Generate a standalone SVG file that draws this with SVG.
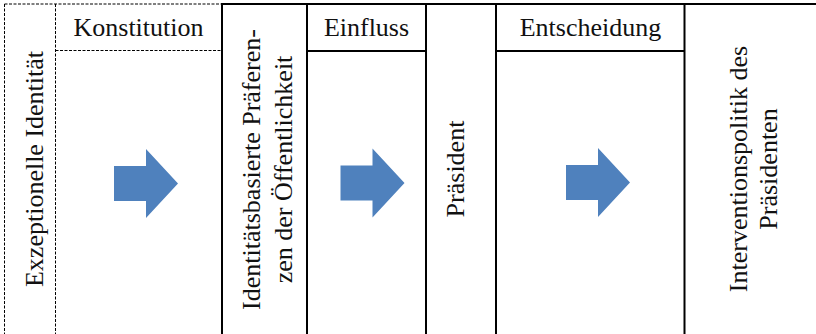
<svg xmlns="http://www.w3.org/2000/svg" width="816" height="334" viewBox="0 0 816 334">
  <defs>
    <style>
      .t { font-family: 'Liberation Serif', 'DejaVu Serif', serif; font-size: 26px; fill: #111; }
      .m { text-anchor: middle; }
      .solid { stroke: #000; stroke-width: 2; fill: none; }
      .dash { stroke: #000; stroke-width: 1; stroke-dasharray: 3 1.5; fill: none; }
      .arrow { fill: #4F81BD; }
    </style>
    <path id="blockArrow" d="M0,17 H32 V0 L64,34.5 L32,69 V52 H0 Z"/>
  </defs>
  <rect width="816" height="334" fill="#fff"/>

  <g id="grid">
    <path class="dash" d="M4.5,4 H222 M4.5,4 V334 M55.5,4 V334 M55.5,50.5 H222"/>
    <path class="solid" d="M222,4 H816 M222,3 V334 M307,4 V334 M426,4 V334 M496,4 V334 M684.5,4 V334 M307,51 H426 M496,51 H684.5"/>
  </g>

  <g id="node-exzeptionelle">
    <text class="t m" font-family="Liberation Serif, serif" transform="translate(43,169) rotate(-90)">Exzeptionelle Identität</text>
  </g>
  <g id="node-konstitution">
    <text class="t m" font-family="Liberation Serif, serif" x="138.5" y="35.5">Konstitution</text>
  </g>
  <g id="node-praeferenzen">
    <text class="t m" font-family="Liberation Serif, serif" transform="translate(260,169.5) rotate(-90)">Identitätsbasierte Präferen-</text>
    <text class="t m" font-family="Liberation Serif, serif" transform="translate(291.5,169.5) rotate(-90)">zen der Öffentlichkeit</text>
  </g>
  <g id="node-einfluss">
    <text class="t m" font-family="Liberation Serif, serif" x="366.5" y="35.5">Einfluss</text>
  </g>
  <g id="node-praesident">
    <text class="t m" font-family="Liberation Serif, serif" transform="translate(464,169) rotate(-90)">Präsident</text>
  </g>
  <g id="node-entscheidung">
    <text class="t m" font-family="Liberation Serif, serif" x="590.5" y="35.5">Entscheidung</text>
  </g>
  <g id="node-interventionspolitik">
    <text class="t m" font-family="Liberation Serif, serif" transform="translate(747,169) rotate(-90)">Interventionspolitik des</text>
    <text class="t m" font-family="Liberation Serif, serif" transform="translate(777,169) rotate(-90)">Präsidenten</text>
  </g>

  <g id="connectors">
    <use href="#blockArrow" class="arrow" x="114" y="149"/>
    <use href="#blockArrow" class="arrow" x="340.5" y="148.5"/>
    <use href="#blockArrow" class="arrow" x="566" y="148"/>
  </g>
</svg>
